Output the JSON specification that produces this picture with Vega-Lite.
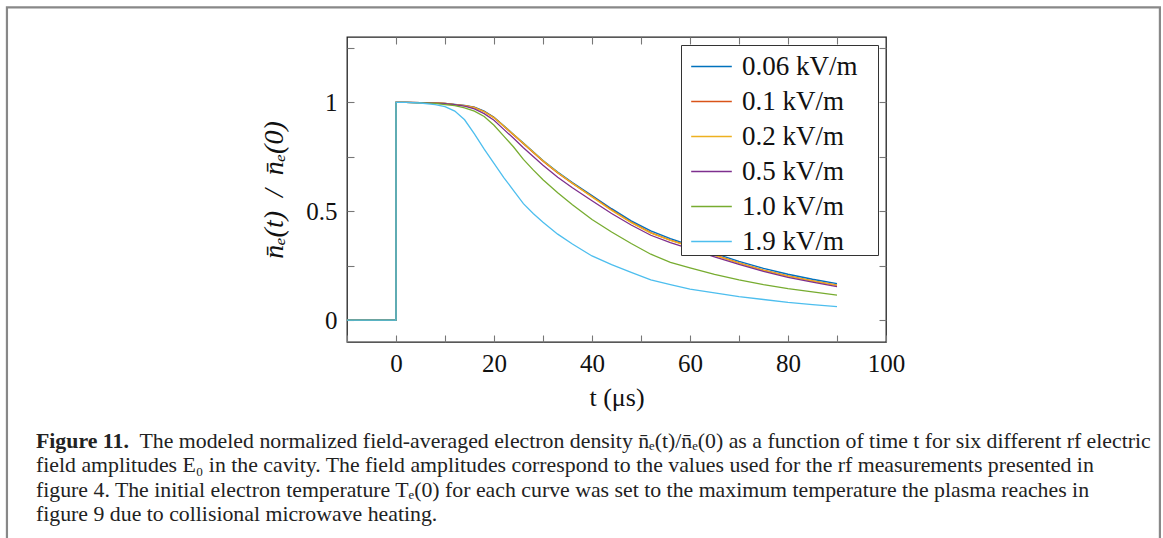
{
  "$schema": "https://vega.github.io/schema/vega-lite/v6.json",
  "width": 539,
  "height": 305,
  "autosize": {"type": "none"},
  "padding": {"left": 347, "top": 37, "right": 277, "bottom": 196},
  "background": "white",
  "config": {
    "view": {"stroke": "#222222", "strokeWidth": 1.3},
    "axis": {"grid": false, "domain": false, "tickSize": -7, "tickColor": "#777777", "tickWidth": 1.1, "labelFont": "Liberation Serif", "labelFontSize": 25, "labelColor": "#111111", "titleFont": "Liberation Serif", "titleFontSize": 26, "titleFontWeight": "normal", "titleColor": "#111111", "labelFlush": false, "labelOverlap": false},
    "title": {"font": "Liberation Serif", "subtitleFont": "Liberation Serif", "subtitleFontSize": 21.8, "subtitleColor": "#222222"}
  },
  "title": {
    "text": "Figure 11.",
    "subtitle": [
      "\u200b\u00a0\u00a0\u00a0\u00a0\u00a0\u00a0\u00a0\u00a0\u00a0\u00a0\u00a0\u00a0\u00a0\u00a0\u00a0\u00a0\u00a0\u00a0\u00a0The modeled normalized field-averaged electron density n̄ₑ(t)/n̄ₑ(0) as a function of time t for six different rf electric",
      "field amplitudes E₀ in the cavity. The field amplitudes correspond to the values used for the rf measurements presented in",
      "figure 4. The initial electron temperature Tₑ(0) for each curve was set to the maximum temperature the plasma reaches in",
      "figure 9 due to collisional microwave heating."
    ],
    "orient": "bottom",
    "anchor": "start",
    "frame": "group",
    "dx": -311,
    "offset": 0,
    "dy": -174,
    "font": "Liberation Serif",
    "fontSize": 21.8,
    "fontWeight": "bold",
    "color": "#222222",
    "subtitleFont": "Liberation Serif",
    "subtitleFontSize": 21.8,
    "subtitleColor": "#222222",
    "subtitleLineHeight": 24.6,
    "subtitlePadding": -21.8
  },
  "data": {"values": [
    {"E":"0.06 kV/m","t":-10,"n":0,"i":0},{"E":"0.06 kV/m","t":0,"n":0,"i":1},{"E":"0.06 kV/m","t":0,"n":1,"i":2},{"E":"0.06 kV/m","t":2,"n":1,"i":3},{"E":"0.06 kV/m","t":5,"n":0.999,"i":4},{"E":"0.06 kV/m","t":8,"n":0.997,"i":5},{"E":"0.06 kV/m","t":10,"n":0.995,"i":6},{"E":"0.06 kV/m","t":12,"n":0.991,"i":7},{"E":"0.06 kV/m","t":14,"n":0.986,"i":8},{"E":"0.06 kV/m","t":16,"n":0.978,"i":9},{"E":"0.06 kV/m","t":18,"n":0.96,"i":10},{"E":"0.06 kV/m","t":20,"n":0.932,"i":11},{"E":"0.06 kV/m","t":22,"n":0.893,"i":12},{"E":"0.06 kV/m","t":24,"n":0.853,"i":13},{"E":"0.06 kV/m","t":26,"n":0.813,"i":14},{"E":"0.06 kV/m","t":28,"n":0.773,"i":15},{"E":"0.06 kV/m","t":30,"n":0.733,"i":16},{"E":"0.06 kV/m","t":33,"n":0.68,"i":17},{"E":"0.06 kV/m","t":36,"n":0.632,"i":18},{"E":"0.06 kV/m","t":40,"n":0.572,"i":19},{"E":"0.06 kV/m","t":44,"n":0.512,"i":20},{"E":"0.06 kV/m","t":48,"n":0.456,"i":21},{"E":"0.06 kV/m","t":52,"n":0.41,"i":22},{"E":"0.06 kV/m","t":56,"n":0.375,"i":23},{"E":"0.06 kV/m","t":60,"n":0.345,"i":24},{"E":"0.06 kV/m","t":65,"n":0.307,"i":25},{"E":"0.06 kV/m","t":70,"n":0.27,"i":26},{"E":"0.06 kV/m","t":75,"n":0.238,"i":27},{"E":"0.06 kV/m","t":80,"n":0.211,"i":28},{"E":"0.06 kV/m","t":85,"n":0.188,"i":29},{"E":"0.06 kV/m","t":90,"n":0.168,"i":30},
    {"E":"0.1 kV/m","t":-10,"n":0,"i":0},{"E":"0.1 kV/m","t":0,"n":0,"i":1},{"E":"0.1 kV/m","t":0,"n":1,"i":2},{"E":"0.1 kV/m","t":2,"n":1,"i":3},{"E":"0.1 kV/m","t":5,"n":0.999,"i":4},{"E":"0.1 kV/m","t":8,"n":0.997,"i":5},{"E":"0.1 kV/m","t":10,"n":0.995,"i":6},{"E":"0.1 kV/m","t":12,"n":0.99,"i":7},{"E":"0.1 kV/m","t":14,"n":0.985,"i":8},{"E":"0.1 kV/m","t":16,"n":0.977,"i":9},{"E":"0.1 kV/m","t":18,"n":0.958,"i":10},{"E":"0.1 kV/m","t":20,"n":0.93,"i":11},{"E":"0.1 kV/m","t":22,"n":0.89,"i":12},{"E":"0.1 kV/m","t":24,"n":0.85,"i":13},{"E":"0.1 kV/m","t":26,"n":0.81,"i":14},{"E":"0.1 kV/m","t":28,"n":0.77,"i":15},{"E":"0.1 kV/m","t":30,"n":0.73,"i":16},{"E":"0.1 kV/m","t":33,"n":0.676,"i":17},{"E":"0.1 kV/m","t":36,"n":0.628,"i":18},{"E":"0.1 kV/m","t":40,"n":0.568,"i":19},{"E":"0.1 kV/m","t":44,"n":0.507,"i":20},{"E":"0.1 kV/m","t":48,"n":0.45,"i":21},{"E":"0.1 kV/m","t":52,"n":0.402,"i":22},{"E":"0.1 kV/m","t":56,"n":0.368,"i":23},{"E":"0.1 kV/m","t":60,"n":0.34,"i":24},{"E":"0.1 kV/m","t":65,"n":0.3,"i":25},{"E":"0.1 kV/m","t":70,"n":0.263,"i":26},{"E":"0.1 kV/m","t":75,"n":0.23,"i":27},{"E":"0.1 kV/m","t":80,"n":0.203,"i":28},{"E":"0.1 kV/m","t":85,"n":0.181,"i":29},{"E":"0.1 kV/m","t":90,"n":0.161,"i":30},
    {"E":"0.2 kV/m","t":-10,"n":0,"i":0},{"E":"0.2 kV/m","t":0,"n":0,"i":1},{"E":"0.2 kV/m","t":0,"n":1,"i":2},{"E":"0.2 kV/m","t":2,"n":1,"i":3},{"E":"0.2 kV/m","t":5,"n":0.999,"i":4},{"E":"0.2 kV/m","t":8,"n":0.997,"i":5},{"E":"0.2 kV/m","t":10,"n":0.995,"i":6},{"E":"0.2 kV/m","t":12,"n":0.99,"i":7},{"E":"0.2 kV/m","t":14,"n":0.985,"i":8},{"E":"0.2 kV/m","t":16,"n":0.976,"i":9},{"E":"0.2 kV/m","t":18,"n":0.957,"i":10},{"E":"0.2 kV/m","t":20,"n":0.929,"i":11},{"E":"0.2 kV/m","t":22,"n":0.891,"i":12},{"E":"0.2 kV/m","t":24,"n":0.852,"i":13},{"E":"0.2 kV/m","t":26,"n":0.812,"i":14},{"E":"0.2 kV/m","t":28,"n":0.772,"i":15},{"E":"0.2 kV/m","t":30,"n":0.732,"i":16},{"E":"0.2 kV/m","t":33,"n":0.678,"i":17},{"E":"0.2 kV/m","t":36,"n":0.629,"i":18},{"E":"0.2 kV/m","t":40,"n":0.566,"i":19},{"E":"0.2 kV/m","t":44,"n":0.504,"i":20},{"E":"0.2 kV/m","t":48,"n":0.448,"i":21},{"E":"0.2 kV/m","t":52,"n":0.4,"i":22},{"E":"0.2 kV/m","t":56,"n":0.366,"i":23},{"E":"0.2 kV/m","t":60,"n":0.338,"i":24},{"E":"0.2 kV/m","t":65,"n":0.298,"i":25},{"E":"0.2 kV/m","t":70,"n":0.262,"i":26},{"E":"0.2 kV/m","t":75,"n":0.229,"i":27},{"E":"0.2 kV/m","t":80,"n":0.202,"i":28},{"E":"0.2 kV/m","t":85,"n":0.18,"i":29},{"E":"0.2 kV/m","t":90,"n":0.16,"i":30},
    {"E":"0.5 kV/m","t":-10,"n":0,"i":0},{"E":"0.5 kV/m","t":0,"n":0,"i":1},{"E":"0.5 kV/m","t":0,"n":1,"i":2},{"E":"0.5 kV/m","t":2,"n":1,"i":3},{"E":"0.5 kV/m","t":5,"n":0.999,"i":4},{"E":"0.5 kV/m","t":8,"n":0.996,"i":5},{"E":"0.5 kV/m","t":10,"n":0.994,"i":6},{"E":"0.5 kV/m","t":12,"n":0.989,"i":7},{"E":"0.5 kV/m","t":14,"n":0.983,"i":8},{"E":"0.5 kV/m","t":16,"n":0.97,"i":9},{"E":"0.5 kV/m","t":18,"n":0.948,"i":10},{"E":"0.5 kV/m","t":20,"n":0.918,"i":11},{"E":"0.5 kV/m","t":22,"n":0.876,"i":12},{"E":"0.5 kV/m","t":24,"n":0.835,"i":13},{"E":"0.5 kV/m","t":26,"n":0.792,"i":14},{"E":"0.5 kV/m","t":28,"n":0.751,"i":15},{"E":"0.5 kV/m","t":30,"n":0.711,"i":16},{"E":"0.5 kV/m","t":33,"n":0.656,"i":17},{"E":"0.5 kV/m","t":36,"n":0.608,"i":18},{"E":"0.5 kV/m","t":40,"n":0.548,"i":19},{"E":"0.5 kV/m","t":44,"n":0.49,"i":20},{"E":"0.5 kV/m","t":48,"n":0.437,"i":21},{"E":"0.5 kV/m","t":52,"n":0.39,"i":22},{"E":"0.5 kV/m","t":56,"n":0.356,"i":23},{"E":"0.5 kV/m","t":60,"n":0.327,"i":24},{"E":"0.5 kV/m","t":65,"n":0.291,"i":25},{"E":"0.5 kV/m","t":70,"n":0.256,"i":26},{"E":"0.5 kV/m","t":75,"n":0.224,"i":27},{"E":"0.5 kV/m","t":80,"n":0.197,"i":28},{"E":"0.5 kV/m","t":85,"n":0.175,"i":29},{"E":"0.5 kV/m","t":90,"n":0.154,"i":30},
    {"E":"1.0 kV/m","t":-10,"n":0,"i":0},{"E":"1.0 kV/m","t":0,"n":0,"i":1},{"E":"1.0 kV/m","t":0,"n":1,"i":2},{"E":"1.0 kV/m","t":2,"n":1,"i":3},{"E":"1.0 kV/m","t":5,"n":0.998,"i":4},{"E":"1.0 kV/m","t":8,"n":0.995,"i":5},{"E":"1.0 kV/m","t":10,"n":0.99,"i":6},{"E":"1.0 kV/m","t":12,"n":0.985,"i":7},{"E":"1.0 kV/m","t":14,"n":0.975,"i":8},{"E":"1.0 kV/m","t":16,"n":0.96,"i":9},{"E":"1.0 kV/m","t":18,"n":0.935,"i":10},{"E":"1.0 kV/m","t":20,"n":0.895,"i":11},{"E":"1.0 kV/m","t":22,"n":0.845,"i":12},{"E":"1.0 kV/m","t":24,"n":0.795,"i":13},{"E":"1.0 kV/m","t":26,"n":0.738,"i":14},{"E":"1.0 kV/m","t":28,"n":0.69,"i":15},{"E":"1.0 kV/m","t":30,"n":0.645,"i":16},{"E":"1.0 kV/m","t":33,"n":0.585,"i":17},{"E":"1.0 kV/m","t":36,"n":0.53,"i":18},{"E":"1.0 kV/m","t":40,"n":0.462,"i":19},{"E":"1.0 kV/m","t":44,"n":0.405,"i":20},{"E":"1.0 kV/m","t":48,"n":0.352,"i":21},{"E":"1.0 kV/m","t":52,"n":0.303,"i":22},{"E":"1.0 kV/m","t":56,"n":0.266,"i":23},{"E":"1.0 kV/m","t":60,"n":0.24,"i":24},{"E":"1.0 kV/m","t":65,"n":0.21,"i":25},{"E":"1.0 kV/m","t":70,"n":0.185,"i":26},{"E":"1.0 kV/m","t":75,"n":0.163,"i":27},{"E":"1.0 kV/m","t":80,"n":0.145,"i":28},{"E":"1.0 kV/m","t":85,"n":0.13,"i":29},{"E":"1.0 kV/m","t":90,"n":0.115,"i":30},
    {"E":"1.9 kV/m","t":-10,"n":0,"i":0},{"E":"1.9 kV/m","t":0,"n":0,"i":1},{"E":"1.9 kV/m","t":0,"n":1,"i":2},{"E":"1.9 kV/m","t":2,"n":1,"i":3},{"E":"1.9 kV/m","t":5,"n":0.997,"i":4},{"E":"1.9 kV/m","t":8,"n":0.99,"i":5},{"E":"1.9 kV/m","t":10,"n":0.98,"i":6},{"E":"1.9 kV/m","t":12,"n":0.96,"i":7},{"E":"1.9 kV/m","t":14,"n":0.92,"i":8},{"E":"1.9 kV/m","t":16,"n":0.855,"i":9},{"E":"1.9 kV/m","t":18,"n":0.785,"i":10},{"E":"1.9 kV/m","t":20,"n":0.72,"i":11},{"E":"1.9 kV/m","t":22,"n":0.655,"i":12},{"E":"1.9 kV/m","t":24,"n":0.595,"i":13},{"E":"1.9 kV/m","t":26,"n":0.535,"i":14},{"E":"1.9 kV/m","t":28,"n":0.49,"i":15},{"E":"1.9 kV/m","t":30,"n":0.45,"i":16},{"E":"1.9 kV/m","t":33,"n":0.395,"i":17},{"E":"1.9 kV/m","t":36,"n":0.35,"i":18},{"E":"1.9 kV/m","t":40,"n":0.295,"i":19},{"E":"1.9 kV/m","t":44,"n":0.255,"i":20},{"E":"1.9 kV/m","t":48,"n":0.22,"i":21},{"E":"1.9 kV/m","t":52,"n":0.185,"i":22},{"E":"1.9 kV/m","t":56,"n":0.163,"i":23},{"E":"1.9 kV/m","t":60,"n":0.143,"i":24},{"E":"1.9 kV/m","t":65,"n":0.125,"i":25},{"E":"1.9 kV/m","t":70,"n":0.108,"i":26},{"E":"1.9 kV/m","t":75,"n":0.095,"i":27},{"E":"1.9 kV/m","t":80,"n":0.082,"i":28},{"E":"1.9 kV/m","t":85,"n":0.072,"i":29},{"E":"1.9 kV/m","t":90,"n":0.062,"i":30}
  ]},
  "resolve": {"axis": {"x": "independent", "y": "independent"}},
  "layer": [
    {
      "data": {"values": [{}]},
      "mark": {"type": "rect", "fill": null, "fillOpacity": 0, "stroke": "#888888", "strokeWidth": 2.2, "clip": false},
      "encoding": {
        "x": {"datum": -79.4, "type": "quantitative", "scale": {"domain": [-10, 100], "nice": false, "zero": false}, "axis": null},
        "x2": {"datum": 155.9},
        "y": {"datum": 1.436, "type": "quantitative", "scale": {"domain": [-0.1, 1.3], "nice": false, "zero": false}, "axis": null},
        "y2": {"datum": -1.3}
      }
    },
    {
      "mark": {"type": "line", "strokeWidth": 1.3, "clip": true},
      "encoding": {
        "x": {"field": "t", "type": "quantitative", "scale": {"domain": [-10, 100], "nice": false, "zero": false},
          "axis": {"orient": "bottom", "values": [-10, 0, 10, 20, 30, 40, 50, 60, 70, 80, 90, 100], "labelExpr": "datum.value >= 0 && datum.value % 20 == 0 ? datum.label : ''", "labelPadding": 16, "title": "t (μs)", "titlePadding": 8}},
        "y": {"field": "n", "type": "quantitative", "scale": {"domain": [-0.1, 1.3], "nice": false, "zero": false},
          "axis": {"orient": "left", "values": [0, 0.25, 0.5, 0.75, 1, 1.25], "labelExpr": "datum.value == 0 ? '0' : datum.value == 0.5 ? '0.5' : datum.value == 1 ? '1' : ''", "labelPadding": 17, "title": "n̄ₑ(t)\u00a0\u00a0/\u00a0\u00a0n̄ₑ(0)", "titleFontSize": 28, "titleFontStyle": "italic", "titlePadding": 17}},
        "color": {"field": "E", "type": "nominal",
          "scale": {"domain": ["0.06 kV/m", "0.1 kV/m", "0.2 kV/m", "0.5 kV/m", "1.0 kV/m", "1.9 kV/m"], "range": ["#0072BD", "#D95319", "#EDB120", "#7E2F8E", "#77AC30", "#4DBEEE"]},
          "legend": {"title": null, "orient": "top-right", "offset": 8, "symbolType": "stroke", "symbolSize": 1650, "symbolStrokeWidth": 1.6, "symbolOffset": 9, "labelFont": "Liberation Serif", "labelFontSize": 27, "labelColor": "#111111", "labelOffset": 9, "labelExpr": "datum.label + '\u00a0\u00a0\u00a0\u200b'", "rowPadding": 0, "padding": 0, "fillColor": "white", "strokeColor": "#333333", "labelLimit": 400}},
        "order": {"field": "i", "type": "quantitative"}
      }
    },
    {
      "mark": {"type": "line", "strokeOpacity": 0},
      "encoding": {
        "x": {"field": "t", "type": "quantitative", "scale": {"domain": [-10, 100], "nice": false, "zero": false},
          "axis": {"orient": "top", "values": [0, 10, 20, 30, 40, 50, 60, 70, 80, 90], "labels": false, "title": null}},
        "y": {"field": "n", "type": "quantitative", "scale": {"domain": [-0.1, 1.3], "nice": false, "zero": false},
          "axis": {"orient": "right", "values": [0, 0.25, 0.5, 0.75, 1, 1.25], "labels": false, "title": null}},
        "detail": {"field": "E", "type": "nominal"},
        "order": {"field": "i", "type": "quantitative"}
      }
    }
  ]
}
